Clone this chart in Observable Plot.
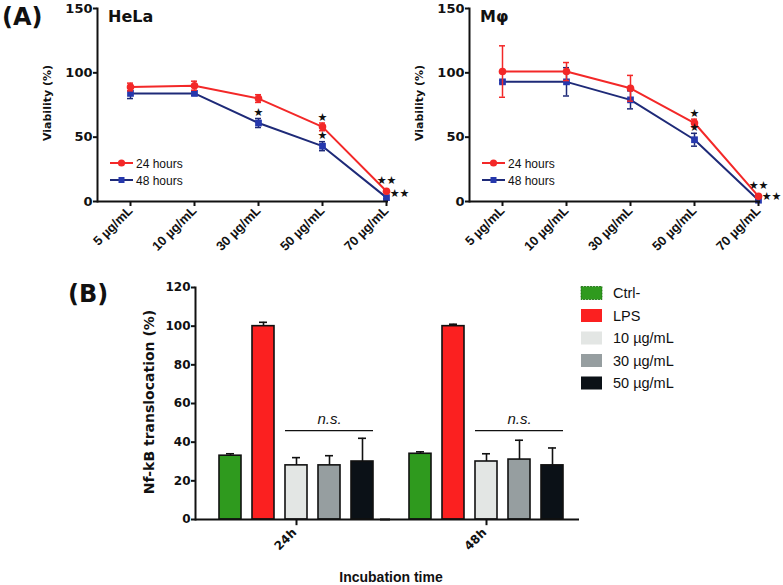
<!DOCTYPE html>
<html>
<head>
<meta charset="utf-8">
<script src="https://cdn.jsdelivr.net/npm/d3@7"></script>
<script src="https://cdn.jsdelivr.net/npm/@observablehq/plot@0.6"></script>
<style>
  body { margin: 0; background: #fff; }
  #fig { position: relative; width: 783px; height: 585px; overflow: hidden; background: #fff; font-family: "DejaVu Sans", sans-serif; }
  #fig > * { position: absolute; }
  svg { overflow: visible; }
</style>
</head>
<body>
<div id="fig"></div>
<script>
// ---------- Panel A data ----------
const doses = ["5 µg/mL", "10 µg/mL", "30 µg/mL", "50 µg/mL", "70 µg/mL"];
const seriesNames = ["24 hours", "48 hours"];
const yTicksA = [0, 50, 100, 150];

const helaV24 = [89, 90, 80, 58, 8];
const helaE24 = [3, 3.5, 3, 3, 1];
const helaV48 = [84, 84, 61, 43, 3];
const helaE48 = [4, 1.5, 3.5, 3.5, 1];

const mphV24 = [101, 101, 88, 61, 4];
const mphE24 = [20, 7, 10, 3, 1];
const mphV48 = [93, 93, 79, 48, 1];
const mphE48 = [1, 11, 7, 5, 1];

const helaStars = [
  {dose: "30 µg/mL", series: "48 hours", label: "★", place: "above"},
  {dose: "50 µg/mL", series: "24 hours", label: "★", place: "above"},
  {dose: "50 µg/mL", series: "48 hours", label: "★", place: "above"},
  {dose: "70 µg/mL", series: "24 hours", label: "★★", place: "high"},
  {dose: "70 µg/mL", series: "48 hours", label: "★★", place: "right"}
];
const mphStars = [
  {dose: "50 µg/mL", series: "24 hours", label: "★", place: "above"},
  {dose: "50 µg/mL", series: "48 hours", label: "★", place: "above"},
  {dose: "70 µg/mL", series: "24 hours", label: "★★", place: "high"},
  {dose: "70 µg/mL", series: "48 hours", label: "★★", place: "right"}
];

// ---------- Panel B data ----------
const times = ["24h", "48h"];
const treatments = ["Ctrl-", "LPS", "10 µg/mL", "30 µg/mL", "50 µg/mL"];
const b24 = [33, 100, 28, 28, 30];
const e24 = [1, 2, 4, 5, 12];
const b48 = [34, 100, 30, 31, 28];
const e48 = [1, 1, 4, 10, 9];
const yTicksB = [0, 20, 40, 60, 80, 100, 120];
const nsLevel = 46;

// ---------- styles ----------
const RED = "#f32828", NAVY = "#1e2a78", BLUE = "#2638ad";
const treatColors = ["#2f9a1e", "#fb2020", "#e3e6e4", "#969ea0", "#0b1117"];
const seriesStyle = {
  "24 hours": {line: RED, fill: RED, symbol: "circle"},
  "48 hours": {line: NAVY, fill: BLUE, symbol: "square"}
};
const starOffset = {above: {dx: 0, dy: -6}, high: {dx: 0, dy: -9.5}, right: {dx: 13, dy: -4}};

const fig = document.getElementById("fig");

function linePanel(v24, ev24, v48, ev48, stars) {
  const rows = [];
  doses.forEach((d, i) => {
    rows.push({dose: d, series: "24 hours", v: v24[i], e: ev24[i]});
    rows.push({dose: d, series: "48 hours", v: v48[i], e: ev48[i]});
  });
  const marks = [];
  for (const s of ["48 hours", "24 hours"]) {
    const d = rows.filter(r => r.series === s);
    const st = seriesStyle[s];
    marks.push(Plot.line(d, {x: "dose", y: "v", stroke: st.line, strokeWidth: 2}));
    marks.push(Plot.ruleX(d, {x: "dose", y1: r => r.v - r.e, y2: r => r.v + r.e, stroke: st.line, strokeWidth: 1.5}));
    marks.push(Plot.ruleY(d, {x1: "dose", x2: "dose", y: r => r.v + r.e, insetLeft: -3, insetRight: -3, stroke: st.line, strokeWidth: 1.5}));
    marks.push(Plot.ruleY(d, {x1: "dose", x2: "dose", y: r => r.v - r.e, insetLeft: -3, insetRight: -3, stroke: st.line, strokeWidth: 1.5}));
    marks.push(Plot.dot(d, {x: "dose", y: "v", symbol: st.symbol, r: 3.8, fill: st.fill, stroke: "none"}));
  }
  const starRows = stars.map(s => {
    const r = rows.find(q => q.dose === s.dose && q.series === s.series);
    return {...s, y: s.place === "right" ? r.v : r.v + r.e};
  });
  for (const place of Object.keys(starOffset)) {
    marks.push(Plot.text(starRows.filter(s => s.place === place), {x: "dose", y: "y", text: "label", ...starOffset[place], fontSize: 11, fill: "#111"}));
  }
  marks.push(Plot.ruleY([0], {strokeWidth: 2}));
  marks.push(Plot.frame({anchor: "left", strokeWidth: 2}));
  marks.push(Plot.axisY({ticks: yTicksA, tickSize: 4, tickPadding: 1, fontSize: 13, fontWeight: "bold", strokeWidth: 2, label: null}));
  marks.push(Plot.axisX({tickRotate: -45, tickSize: 5, tickPadding: 2, fontSize: 13, fontWeight: "bold", fontFamily: "Liberation Sans", strokeWidth: 2, label: null}));
  return Plot.plot({
    width: 390, height: 270,
    marginLeft: 97, marginRight: 2, marginTop: 8, marginBottom: 69,
    style: {fontFamily: "DejaVu Sans", fontSize: "11px", overflow: "visible", background: "none", color: "#111"},
    x: {type: "point", domain: doses, range: [128.5, 387.5], padding: 0},
    y: {domain: [0, 150]},
    marks
  });
}

const p1 = linePanel(helaV24, helaE24, helaV48, helaE48, helaStars);
p1.style.left = "0px"; p1.style.top = "0px";
fig.appendChild(p1);
const p2 = linePanel(mphV24, mphE24, mphV48, mphE48, mphStars);
p2.style.left = "372px"; p2.style.top = "0px";
fig.appendChild(p2);

// ---------- Panel B ----------
const bdata = [];
times.forEach((t, ti) => treatments.forEach((tr, i) => {
  bdata.push({time: t, treatment: tr, v: ti ? b48[i] : b24[i], e: ti ? e48[i] : e24[i]});
}));

const pB = Plot.plot({
  width: 783, height: 315,
  marginLeft: 195, marginRight: 208, marginTop: 17, marginBottom: 66,
  style: {fontFamily: "DejaVu Sans", fontSize: "12px", overflow: "visible", background: "none", color: "#111"},
  fx: {domain: times, padding: 0, axis: null},
  x: {domain: treatments, paddingInner: 0.3433, paddingOuter: 0.5075, align: 0.647, axis: null},
  y: {domain: [0, 120], axis: null},
  color: {domain: treatments, range: treatColors},
  marks: [
    Plot.ruleX(bdata, {fx: "time", x: "treatment", y1: "v", y2: d => d.v + d.e, strokeWidth: 1.6, stroke: "#111"}),
    Plot.tickY(bdata, {fx: "time", x: "treatment", y: d => d.v + d.e, insetLeft: 7, insetRight: 7, strokeWidth: 1.6, stroke: "#111"}),
    Plot.barY(bdata, {fx: "time", x: "treatment", y: "v", fill: "treatment", stroke: "#111", strokeWidth: 1.6}),
    Plot.ruleY(times.slice(0, 1), {fx: d => d, y: () => 0, strokeWidth: 2, insetRight: -5}),
    Plot.ruleY(times.slice(1), {fx: d => d, y: () => 0, strokeWidth: 2, insetLeft: -5, insetRight: -4}),
    Plot.frame({anchor: "left", strokeWidth: 2, facetAnchor: "left"}),
    Plot.axisY({ticks: yTicksB, tickSize: 4, tickPadding: 1, fontSize: 12, fontWeight: "bold", strokeWidth: 2, label: null}),
    Plot.ruleY(times, {fx: d => d, x1: () => treatments[2], x2: () => treatments[4], y: () => nsLevel, strokeWidth: 1.2, stroke: "#111"}),
    Plot.text(times, {fx: d => d, x: () => treatments[3], y: () => nsLevel, text: () => "n.s.", dy: -11, fontSize: 15, fontStyle: "italic", fontFamily: "Liberation Sans", fill: "#111"}),
    Plot.ruleX(times, {fx: d => d, x: () => treatments[2], y1: () => 0, y2: () => -3.2, strokeWidth: 2}),
    Plot.text(times, {fx: d => d, x: () => treatments[2], y: () => 0, text: d => d, rotate: -45, textAnchor: "end", dx: -2, dy: 11, fontSize: 12, fontWeight: "bold", fill: "#111"})
  ]
});
pB.style.left = "0px"; pB.style.top = "270px";
fig.appendChild(pB);

// ---------- overlay: panel letters, titles, axis titles, legends ----------
const NS = "http://www.w3.org/2000/svg";
const ov = document.createElementNS(NS, "svg");
ov.setAttribute("width", 783); ov.setAttribute("height", 585);
ov.style.left = "0px"; ov.style.top = "0px"; ov.style.pointerEvents = "none";
function el(tag, attrs, text) {
  const e = document.createElementNS(NS, tag);
  for (const k in attrs) e.setAttribute(k, attrs[k]);
  if (text != null) e.textContent = text;
  ov.appendChild(e);
  return e;
}
const bold = {"font-family": "DejaVu Sans", "font-weight": "bold", fill: "#111"};
el("text", {...bold, x: 2, y: 25, "font-size": 24}, "(A)");
el("text", {...bold, x: 68, y: 302, "font-size": 24}, "(B)");
[["HeLa", 0], ["Mφ", 372]].forEach(([title, ox]) => {
  el("text", {...bold, x: ox + 108, y: 22, "font-size": 16}, title);
  el("text", {...bold, "font-size": 11, "text-anchor": "middle", "dominant-baseline": "central",
    transform: `translate(${ox + 47},103) rotate(-90)`}, "Viability (%)");
  seriesNames.forEach((s, i) => {
    const y = 163 + 17 * i, st = seriesStyle[s];
    el("line", {x1: ox + 110, x2: ox + 133, y1: y, y2: y, stroke: st.line, "stroke-width": 2});
    if (st.symbol === "circle") el("circle", {cx: ox + 121.5, cy: y, r: 3.6, fill: st.fill});
    else el("rect", {x: ox + 118.5, y: y - 3, width: 6, height: 6, fill: st.fill});
    el("text", {x: ox + 136, y: y + 4.5, "font-family": "Liberation Sans", "font-size": 12, fill: "#111"}, s);
  });
});
el("text", {...bold, "font-size": 14, "text-anchor": "middle", "dominant-baseline": "central",
  transform: "translate(149,402) rotate(-90)"}, "Nf-kB translocation (%)");
el("text", {x: 391, y: 582, "font-family": "Liberation Sans", "font-weight": "bold", "font-size": 14, "text-anchor": "middle", fill: "#111"}, "Incubation time");
treatments.forEach((t, i) => {
  const y = 293 + 22.5 * i;
  el("rect", {x: 581, y: y - 6.5, width: 21, height: 13, fill: treatColors[i], stroke: i === 0 ? "#1d6b12" : "none", "stroke-width": 0.8, "stroke-dasharray": i === 0 ? "2,1" : "none"});
  el("text", {x: 613, y: y + 5, "font-family": "Liberation Sans", "font-size": 14.5, fill: "#111"}, t);
});
fig.appendChild(ov);
</script>
</body>
</html>
